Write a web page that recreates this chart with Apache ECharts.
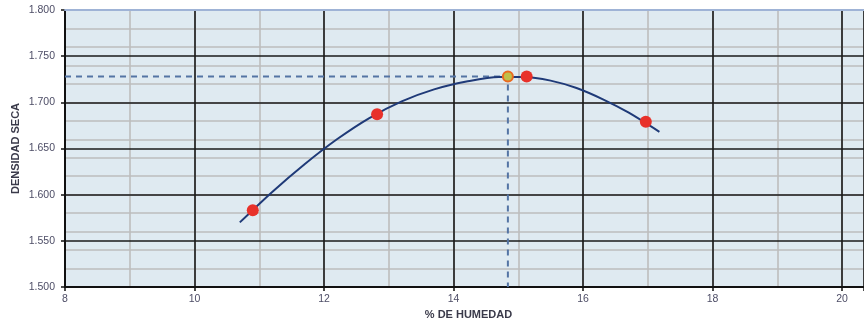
<!DOCTYPE html>
<html><head><meta charset="utf-8">
<script src="https://cdn.jsdelivr.net/npm/echarts@6/dist/echarts.min.js"></script>
<style>html,body{margin:0;padding:0;background:#fff;overflow:hidden}#c{width:864px;height:327px}</style>
</head><body><div id="c"></div>
<script>
// Trend curve (x = % humedad, y = densidad seca)
var curveX = [10.70, 11.20, 11.70, 12.20, 12.70, 13.20, 13.70, 14.20, 14.70, 15.10, 15.50, 15.90, 16.30, 16.70, 17.18];
var curveY = [1.570, 1.603, 1.633, 1.660, 1.683, 1.701, 1.714, 1.7225, 1.7275, 1.7275, 1.7235, 1.7155, 1.7035, 1.689, 1.668];
// Measured points
var pointX = [10.90, 12.82, 15.13, 16.97];
var pointY = [1.583, 1.687, 1.728, 1.679];
// Optimum (max density)
var optX = 14.84;
var optY = 1.728;
// Axis ticks
var xMin = 8, xMajor = 2, xMinor = 1;
var yMin = 1.5, yMax = 1.8, yMajor = 0.05, yMinor = 0.02;
var xLabels = [8, 10, 12, 14, 16, 18, 20];

var xMax = 8 + (864 - 65) / 64.75;
function zip(a, b) { return a.map(function (v, i) { return [v, b[i]]; }); }

var font = 'Liberation Sans';
var chart = echarts.init(document.getElementById('c'));
chart.setOption({
  animation: false,
  grid: { left: 65, right: 0, top: 10, bottom: 40, show: true, backgroundColor: '#dfeaf1', borderWidth: 0, z: 0, outerBoundsMode: 'none' },
  xAxis: [
    { type: 'value', position: 'bottom', min: xMin, max: xMax, interval: xMajor, z: 2,
      name: '% DE HUMEDAD', nameLocation: 'middle', nameGap: 22,
      nameTextStyle: { fontFamily: font, fontSize: 11, fontWeight: 'bold', color: '#3a3a4a', padding: [0, 0, 0, 8] },
      axisLine: { show: true, onZero: false, lineStyle: { color: '#111', width: 2 } },
      axisTick: { show: true, length: 4, lineStyle: { color: '#111', width: 1.5 } },
      axisLabel: { margin: 7, fontFamily: font, fontSize: 10.5, color: '#4d4d66',
        formatter: function (v) { return xLabels.indexOf(Math.round(v * 1000) / 1000) >= 0 ? String(v) : ''; } },
      splitLine: { show: true, lineStyle: { color: '#1a1a1a', width: 1.6 } } },
    { type: 'value', position: 'bottom', min: xMin, max: xMax, interval: xMinor, z: 1,
      axisLine: { show: false, onZero: false },
      axisTick: { show: false },
      axisLabel: { show: false },
      splitLine: { show: true, lineStyle: { color: '#bdbdbd', width: 1.6 } } },
    { type: 'value', position: 'top', min: xMin, max: xMax, interval: xMajor, z: 3,
      axisLine: { show: true, onZero: false, lineStyle: { color: '#9fb3d6', width: 2 } },
      axisTick: { show: false }, axisLabel: { show: false }, splitLine: { show: false } }
  ],
  yAxis: [
    { type: 'value', position: 'left', min: yMin, max: yMax, interval: yMajor, z: 2,
      name: 'DENSIDAD SECA', nameLocation: 'middle', nameGap: 44, nameMoveOverlap: false,
      nameTextStyle: { fontFamily: font, fontSize: 11, fontWeight: 'bold', color: '#3a3a4a' },
      axisLine: { show: true, onZero: false, lineStyle: { color: '#111', width: 2 } },
      axisTick: { show: true, length: 4, lineStyle: { color: '#111', width: 1.5 } },
      axisLabel: { margin: 10, fontFamily: font, fontSize: 10.5, color: '#4d4d66',
        formatter: function (v) { return v.toFixed(3); } },
      splitLine: { show: true, lineStyle: { color: '#1a1a1a', width: 1.6 } } },
    { type: 'value', position: 'left', min: yMin, max: yMax, interval: yMinor, z: 1,
      axisLine: { show: false, onZero: false },
      axisTick: { show: false },
      axisLabel: { show: false },
      splitLine: { show: true, lineStyle: { color: '#bdbdbd', width: 1.6 } } }
  ],
  series: [
    { type: 'line', xAxisIndex: 0, yAxisIndex: 0, z: 4, silent: true,
      data: [[xMin, optY], [optX, optY], [optX, yMin]],
      showSymbol: false, symbol: 'none',
      lineStyle: { color: '#5474a4', width: 2, type: [6, 5] } },
    { type: 'line', xAxisIndex: 0, yAxisIndex: 0, z: 5, silent: true,
      data: zip(curveX, curveY), smooth: 0.3, showSymbol: false, symbol: 'none',
      lineStyle: { color: '#1f3a78', width: 2 } },
    { type: 'scatter', xAxisIndex: 0, yAxisIndex: 0, z: 6,
      data: zip(pointX, pointY), symbolSize: 12,
      itemStyle: { color: '#e8312a', opacity: 1 } },
    { type: 'scatter', xAxisIndex: 0, yAxisIndex: 0, z: 7,
      data: [[optX, optY]], symbolSize: 10,
      itemStyle: { color: '#bfc04a', borderColor: '#ea6a20', borderWidth: 2, opacity: 1 } }
  ]
});
</script></body></html>
